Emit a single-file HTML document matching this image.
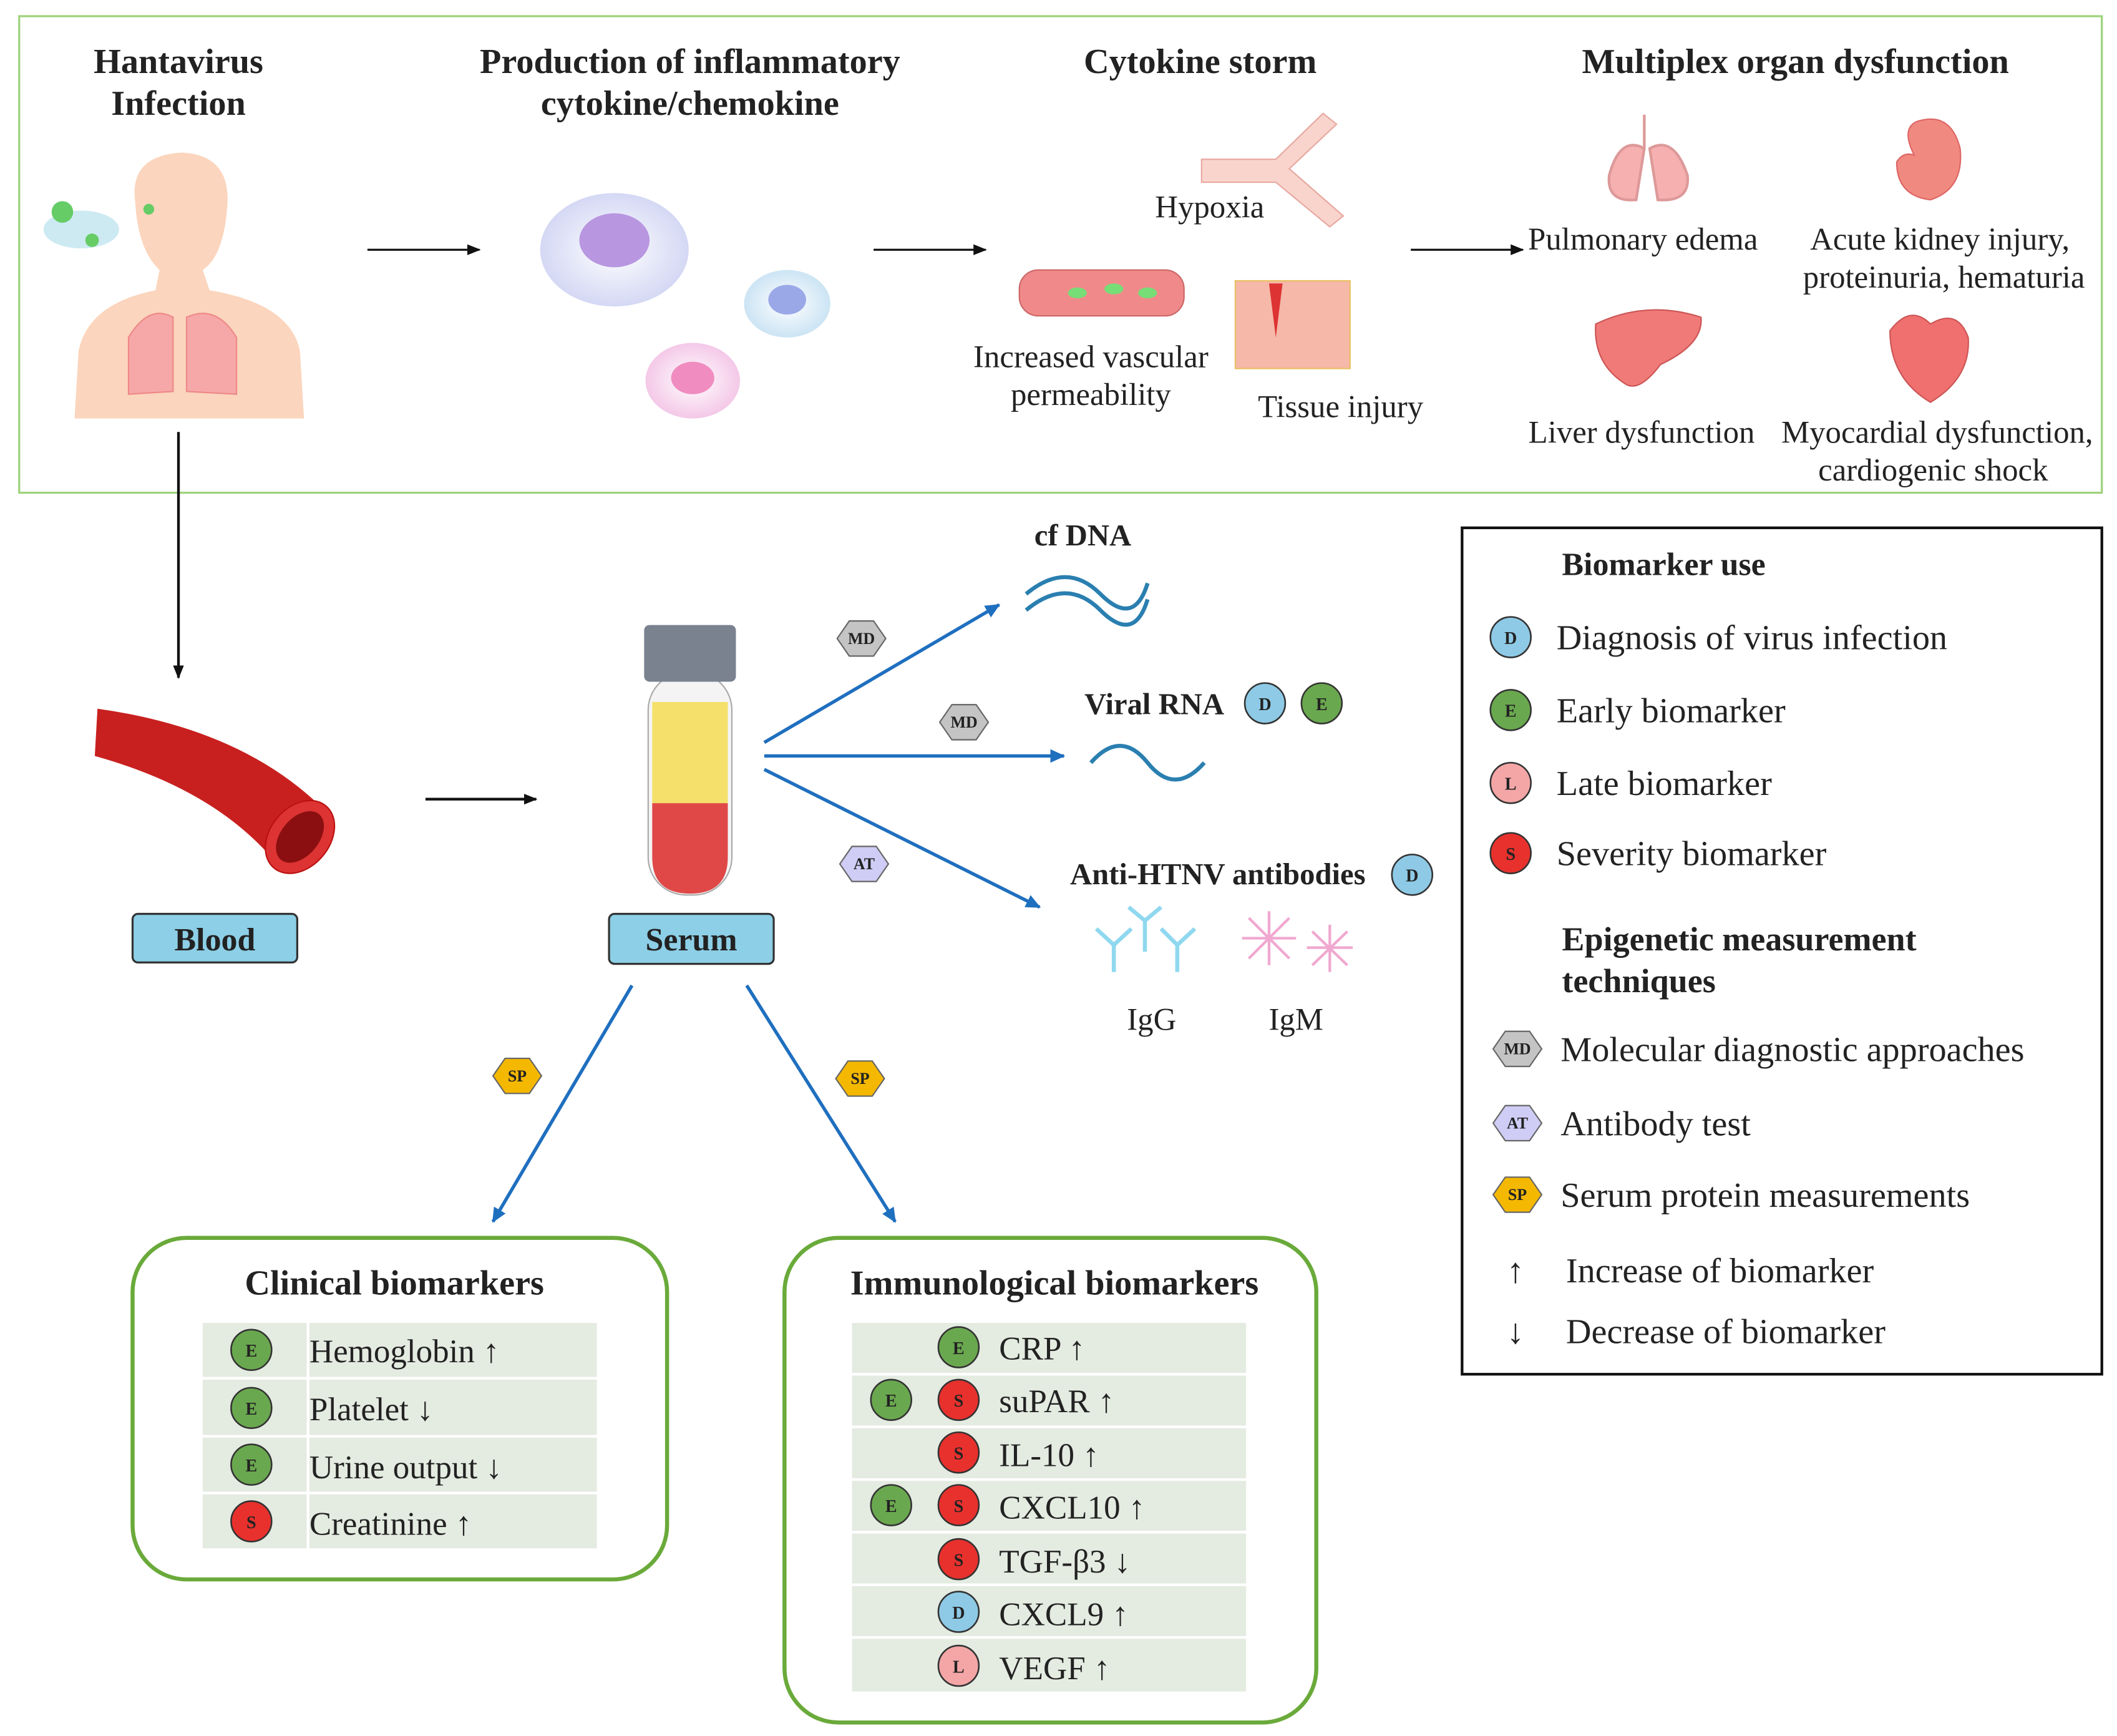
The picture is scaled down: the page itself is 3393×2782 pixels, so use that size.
<!DOCTYPE html>
<html><head><meta charset="utf-8"><style>
html,body{margin:0;padding:0;background:#fff}
svg{display:block}
text{font-family:"Liberation Serif",serif;fill:#222}
.t{font-size:23.5px}
.h{font-size:26px;font-weight:bold}
.c{font-size:12px;font-weight:bold;text-anchor:middle}
.tb{font-size:24.5px}
</style></head><body>
<svg width="3393" height="2782" viewBox="0 0 1568 1286" xmlns="http://www.w3.org/2000/svg">
<defs>
<marker id="ak" markerWidth="10" markerHeight="10" refX="9" refY="5" orient="auto" markerUnits="userSpaceOnUse"><path d="M0,1 L10,5 L0,9 z" fill="#111"/></marker>
<marker id="ab" markerWidth="12" markerHeight="12" refX="10" refY="6" orient="auto" markerUnits="userSpaceOnUse"><path d="M0,1 L11,6 L0,11 z" fill="#1f6fbf"/></marker>
<radialGradient id="cell1"><stop offset="0" stop-color="#fff"/><stop offset="1" stop-color="#d4d8f4"/></radialGradient>
<radialGradient id="cell3"><stop offset="0" stop-color="#fff"/><stop offset="1" stop-color="#f4c8e8"/></radialGradient>
<radialGradient id="cell2"><stop offset="0" stop-color="#fff"/><stop offset="1" stop-color="#cce4f4"/></radialGradient>
</defs>
<rect x="14" y="12" width="1543" height="353" fill="none" stroke="#9ed27c" stroke-width="1.5"/>
<g class="h" text-anchor="middle">
<text x="132" y="54">Hantavirus</text><text x="132" y="85">Infection</text>
<text x="511" y="54">Production of inflammatory</text><text x="511" y="85">cytokine/chemokine</text>
<text x="889" y="54">Cytokine storm</text>
<text x="1330" y="54">Multiplex organ dysfunction</text>
</g>
<g stroke="#111" stroke-width="1.5">
<line x1="272" y1="185" x2="355" y2="185" marker-end="url(#ak)"/>
<line x1="647" y1="185" x2="730" y2="185" marker-end="url(#ak)"/>
<line x1="1045" y1="185" x2="1128" y2="185" marker-end="url(#ak)"/>
</g>
<path d="M100,150 Q95,115 135,113 Q172,115 168,155 Q165,190 150,200 L155,215 Q215,225 222,260 L225,310 L55,310 L58,260 Q65,225 115,215 L118,200 Q102,185 100,150z" fill="#fbd5bd"/>
<path d="M95,250 Q110,225 128,235 L128,290 L95,292z M138,235 Q160,225 175,250 L175,292 L138,290z" fill="#f6a8a8" stroke="#e88" stroke-width="1"/>
<ellipse cx="60" cy="170" rx="28" ry="14" fill="#cdeaf2"/>
<circle cx="46" cy="157" r="8" fill="#6c6"/><circle cx="68" cy="178" r="5" fill="#6c6"/><circle cx="110" cy="155" r="4" fill="#6c6"/>
<ellipse cx="455" cy="185" rx="55" ry="42" fill="url(#cell1)"/><ellipse cx="455" cy="178" rx="26" ry="20" fill="#b896e0"/>
<ellipse cx="583" cy="225" rx="32" ry="25" fill="url(#cell2)"/><ellipse cx="583" cy="222" rx="14" ry="11" fill="#9aa8e8"/>
<ellipse cx="513" cy="282" rx="35" ry="28" fill="url(#cell3)"/><ellipse cx="513" cy="280" rx="16" ry="12" fill="#f08cc0"/>
<path d="M890,118 L945,118 L980,84 L990,92 L955,125 L995,160 L985,168 L945,135 L890,135z" fill="#f8d4cc" stroke="#e8a8a0"/>
<text x="896" y="161" class="t" text-anchor="middle">Hypoxia</text>
<rect x="755" y="200" width="122" height="34" rx="14" fill="#f08a8a" stroke="#c66"/>
<ellipse cx="798" cy="217" rx="7" ry="4" fill="#7d7"/><ellipse cx="825" cy="214" rx="7" ry="4" fill="#7d7"/><ellipse cx="850" cy="217" rx="7" ry="4" fill="#7d7"/>
<text x="808" y="272" class="t" text-anchor="middle">Increased vascular</text>
<text x="808" y="300" class="t" text-anchor="middle">permeability</text>
<rect x="915" y="208" width="85" height="65" fill="#f6b8a8" stroke="#e9c060"/>
<path d="M940,210 L945,250 L950,210z" fill="#d33"/>
<text x="993" y="309" class="t" text-anchor="middle">Tissue injury</text>
<path d="M1218,85 L1218,110 M1218,110 Q1200,100 1192,130 Q1190,150 1212,148 Z M1222,110 Q1240,100 1250,130 Q1252,150 1228,148 Z" fill="#f6b0b0" stroke="#d99" stroke-width="2"/>
<text x="1217" y="185" class="t" text-anchor="middle">Pulmonary edema</text>
<path d="M1420,90 Q1445,82 1452,110 Q1455,140 1430,148 Q1405,145 1405,120 Q1410,112 1418,115 Q1408,95 1420,90z" fill="#f08a80" stroke="#d66"/>
<text x="1437" y="185" class="t" text-anchor="middle">Acute kidney injury,</text>
<text x="1440" y="213" class="t" text-anchor="middle">proteinuria, hematuria</text>
<path d="M1182,240 Q1220,222 1260,235 Q1262,255 1230,270 Q1215,290 1205,285 Q1180,270 1182,240z" fill="#f07a78" stroke="#c55"/>
<text x="1216" y="328" class="t" text-anchor="middle">Liver dysfunction</text>
<path d="M1400,245 Q1415,225 1430,240 Q1450,228 1458,250 Q1460,280 1430,298 Q1400,280 1400,245z" fill="#f07070" stroke="#c55"/>
<text x="1435" y="328" class="t" text-anchor="middle">Myocardial dysfunction,</text>
<text x="1432" y="356" class="t" text-anchor="middle">cardiogenic shock</text>
<line x1="132" y1="320" x2="132" y2="502" stroke="#111" stroke-width="2" marker-end="url(#ak)"/>
<path d="M72,525 Q180,540 240,600 L205,640 Q160,585 70,560z" fill="#c8201f"/>
<ellipse cx="222" cy="620" rx="22" ry="30" transform="rotate(40 222 620)" fill="#d33" stroke="#b11"/>
<ellipse cx="222" cy="620" rx="14" ry="22" transform="rotate(40 222 620)" fill="#8b0f10"/>
<rect x="98" y="677" width="122" height="36" rx="4" fill="#8ccfe6" stroke="#333" stroke-width="1.5"/>
<text x="159" y="704" class="h" text-anchor="middle" style="font-size:24px">Blood</text>
<line x1="315" y1="592" x2="397" y2="592" stroke="#111" stroke-width="2" marker-end="url(#ak)"/>
<rect x="480" y="498" width="62" height="165" rx="28" fill="#f4f4f4" stroke="#aaa"/>
<rect x="483" y="520" width="56" height="75" fill="#f4e06a"/>
<path d="M483,595 L539,595 L539,635 Q539,662 511,662 Q483,662 483,635z" fill="#e04848"/>
<rect x="477" y="463" width="68" height="42" rx="4" fill="#7a8290"/>
<rect x="451" y="677" width="122" height="37" rx="4" fill="#8ccfe6" stroke="#333" stroke-width="1.5"/>
<text x="512" y="704" class="h" text-anchor="middle" style="font-size:24px">Serum</text>
<g stroke="#1f6fbf" stroke-width="2.5" fill="none">
<line x1="566" y1="550" x2="740" y2="448" marker-end="url(#ab)"/>
<line x1="566" y1="560" x2="788" y2="560" marker-end="url(#ab)"/>
<line x1="566" y1="570" x2="770" y2="672" marker-end="url(#ab)"/>
<line x1="468" y1="730" x2="365" y2="905" marker-end="url(#ab)"/>
<line x1="553" y1="730" x2="663" y2="905" marker-end="url(#ab)"/>
</g>
<g stroke="#666" stroke-width="1">
<polygon points="620,473 629,460 647,460 656,473 647,486 629,486" fill="#c4c4c4"/>
<polygon points="696,535 705,522 723,522 732,535 723,548 705,548" fill="#c4c4c4"/>
<polygon points="622,640 631,627 649,627 658,640 649,653 631,653" fill="#cfcdf5"/>
<polygon points="365,797 374,784 392,784 401,797 392,810 374,810" fill="#f5b800"/>
<polygon points="619,799 628,786 646,786 655,799 646,812 628,812" fill="#f5b800"/>
</g>
<g class="c">
<text x="638" y="477">MD</text><text x="714" y="539">MD</text><text x="640" y="644">AT</text>
<text x="383" y="801">SP</text><text x="637" y="803">SP</text>
</g>
<text x="802" y="404" class="h" text-anchor="middle" style="font-size:22.5px">cf DNA</text>
<path d="M760,440 Q790,415 815,440 T850,432 M760,452 Q790,427 815,452 T850,444" stroke="#2a7fb0" stroke-width="3" fill="none"/>
<text x="855" y="529" class="h" text-anchor="middle" style="font-size:22.5px">Viral RNA</text>
<path d="M808,565 Q830,540 850,565 T892,565" stroke="#2a7fb0" stroke-width="3" fill="none"/>
<text x="902" y="655" class="h" text-anchor="middle" style="font-size:22.5px">Anti-HTNV antibodies</text>
<g stroke="#8fd8ef" stroke-width="3" fill="none">
<path d="M825,720 L825,700 L812,688 M825,700 L838,688 M848,705 L848,682 L836,672 M848,682 L860,672 M872,720 L872,700 L860,688 M872,700 L885,688"/>
</g>
<g stroke="#f0a8d0" stroke-width="2" fill="none">
<path d="M940,675 L940,715 M920,695 L960,695 M925,680 L955,710 M955,680 L925,710 M985,685 L985,720 M968,702 L1002,702 M972,690 L998,715 M998,690 L972,715"/>
</g>
<text x="853" y="763" class="t" text-anchor="middle">IgG</text>
<text x="960" y="763" class="t" text-anchor="middle">IgM</text>
<rect x="98" y="917" width="396" height="253" rx="40" fill="none" stroke="#6aaa3a" stroke-width="3"/>
<text x="292" y="959" class="h" text-anchor="middle">Clinical biomarkers</text>
<g fill="#e4ebe1">
<rect x="150" y="980" width="292" height="40"/><rect x="150" y="1022" width="292" height="41"/><rect x="150" y="1065" width="292" height="40"/><rect x="150" y="1107" width="292" height="40"/>
</g>
<line x1="228" y1="980" x2="228" y2="1147" stroke="#fff" stroke-width="2"/>
<g class="tb"><text x="229" y="1009">Hemoglobin ↑</text><text x="229" y="1052">Platelet ↓</text><text x="229" y="1095">Urine output ↓</text><text x="229" y="1137">Creatinine ↑</text></g>
<rect x="581" y="917" width="394" height="359" rx="40" fill="none" stroke="#6aaa3a" stroke-width="3"/>
<text x="781" y="959" class="h" text-anchor="middle">Immunological biomarkers</text>
<g fill="#e4ebe1">
<rect x="631" y="980" width="292" height="37"/><rect x="631" y="1019" width="292" height="37"/><rect x="631" y="1058" width="292" height="37"/><rect x="631" y="1097" width="292" height="37"/><rect x="631" y="1136" width="292" height="37"/><rect x="631" y="1175" width="292" height="37"/><rect x="631" y="1214" width="292" height="39"/>
</g>
<g class="tb"><text x="740" y="1007">CRP ↑</text><text x="740" y="1046">suPAR ↑</text><text x="740" y="1086">IL-10 ↑</text><text x="740" y="1125">CXCL10 ↑</text><text x="740" y="1165">TGF-β3 ↓</text><text x="740" y="1204">CXCL9 ↑</text><text x="740" y="1244">VEGF ↑</text></g>
<rect x="1083" y="391" width="474" height="627" fill="none" stroke="#111" stroke-width="2"/>
<text x="1157" y="426" class="h" style="font-size:24px">Biomarker use</text>
<g style="font-size:26px">
<text x="1153" y="481">Diagnosis of virus infection</text>
<text x="1153" y="535">Early biomarker</text>
<text x="1153" y="589">Late biomarker</text>
<text x="1153" y="641">Severity biomarker</text>
<text x="1156" y="786">Molecular diagnostic approaches</text>
<text x="1156" y="841">Antibody test</text>
<text x="1156" y="894">Serum protein measurements</text>
<text x="1116" y="950">↑</text><text x="1160" y="950">Increase of biomarker</text>
<text x="1116" y="995">↓</text><text x="1160" y="995">Decrease of biomarker</text>
</g>
<text x="1157" y="704" class="h" style="font-size:25px">Epigenetic measurement</text>
<text x="1157" y="735" class="h" style="font-size:25px">techniques</text>
<g stroke="#666" stroke-width="1">
<polygon points="1106,777 1115,764 1133,764 1142,777 1133,790 1115,790" fill="#c4c4c4"/>
<polygon points="1106,832 1115,819 1133,819 1142,832 1133,845 1115,845" fill="#cfcdf5"/>
<polygon points="1106,885 1115,872 1133,872 1142,885 1133,898 1115,898" fill="#f5b800"/>
</g>
<g class="c"><text x="1124" y="781">MD</text><text x="1124" y="836">AT</text><text x="1124" y="889">SP</text></g>
<g stroke="#333" stroke-width="1.2">
<circle cx="937" cy="521" r="15" fill="#8ecae6"/><circle cx="979" cy="521" r="15" fill="#6aa84f"/>
<circle cx="1046" cy="648" r="15" fill="#8ecae6"/>
<circle cx="1119" cy="472" r="15" fill="#8ecae6"/><circle cx="1119" cy="526" r="15" fill="#6aa84f"/>
<circle cx="1119" cy="580" r="15" fill="#f4a6a6"/><circle cx="1119" cy="632" r="15" fill="#e8312d"/>
<circle cx="186" cy="1000" r="15" fill="#6aa84f"/><circle cx="186" cy="1043" r="15" fill="#6aa84f"/>
<circle cx="186" cy="1085" r="15" fill="#6aa84f"/><circle cx="186" cy="1127" r="15" fill="#e8312d"/>
<circle cx="710" cy="998" r="15" fill="#6aa84f"/>
<circle cx="660" cy="1037" r="15" fill="#6aa84f"/><circle cx="710" cy="1037" r="15" fill="#e8312d"/>
<circle cx="710" cy="1076" r="15" fill="#e8312d"/>
<circle cx="660" cy="1115" r="15" fill="#6aa84f"/><circle cx="710" cy="1115" r="15" fill="#e8312d"/>
<circle cx="710" cy="1155" r="15" fill="#e8312d"/>
<circle cx="710" cy="1194" r="15" fill="#8ecae6"/>
<circle cx="710" cy="1234" r="15" fill="#f4a6a6"/>
</g>
<g class="c" style="font-size:13px">
<text x="937" y="526">D</text><text x="979" y="526">E</text><text x="1046" y="653">D</text>
<text x="1119" y="477">D</text><text x="1119" y="531">E</text><text x="1119" y="585">L</text><text x="1119" y="637">S</text>
<text x="186" y="1005">E</text><text x="186" y="1048">E</text><text x="186" y="1090">E</text><text x="186" y="1132">S</text>
<text x="710" y="1003">E</text><text x="660" y="1042">E</text><text x="710" y="1042">S</text><text x="710" y="1081">S</text>
<text x="660" y="1120">E</text><text x="710" y="1120">S</text><text x="710" y="1160">S</text><text x="710" y="1199">D</text><text x="710" y="1239">L</text>
</g>
</svg>
</body></html>
